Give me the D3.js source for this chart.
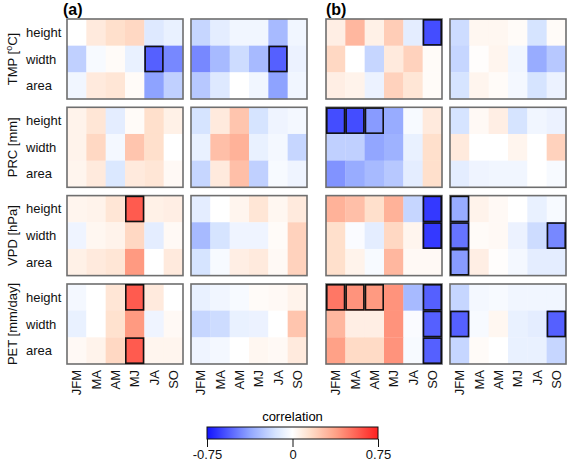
<!DOCTYPE html>
<html><head><meta charset="utf-8">
<script src="https://cdn.jsdelivr.net/npm/d3@7/dist/d3.min.js"></script>
<style>body{margin:0;background:#fff}svg{display:block;font-family:"Liberation Sans",Arial,sans-serif}</style>
</head><body><svg id="c" width="567" height="463"></svg>
<script>
const months = ["JFM","MA","AM","MJ","JA","SO"];
const metrics = ["height","width","area"];
const variables = ["TMP","PRC","VPD","PET"];
const yTitles = ["TMP [\u00baC]","PRC [mm]","VPD [hPa]","PET [mm/day]"];
const groups = ["a1","a2","b1","b2"];
const colorTicks = [-0.75, 0, 0.75];
const colorTickLabels = ["-0.75","0","0.75"];

// rows: height, width, area ; columns: months
const TMP_a1 = [[0.00,0.10,0.15,0.18,-0.12,-0.08],[-0.22,-0.03,0.02,-0.08,-0.55,-0.45],[-0.05,0.10,0.12,0.02,-0.38,-0.22]];
const TMP_a2 = [[-0.20,-0.10,-0.05,-0.05,-0.30,-0.05],[-0.45,-0.30,-0.18,-0.30,-0.55,-0.07],[-0.25,-0.12,0.00,-0.05,-0.38,-0.05]];
const TMP_b1 = [[0.08,0.30,0.07,0.22,-0.10,-0.60],[0.18,0.00,-0.20,0.10,0.20,0.02],[0.08,0.06,-0.07,0.20,0.12,0.02]];
const TMP_b2 = [[-0.18,0.04,0.04,0.02,-0.15,0.02],[-0.20,0.01,0.05,-0.05,-0.35,-0.25],[-0.15,0.05,0.02,-0.04,-0.15,-0.07]];
const PRC_a1 = [[0.06,0.12,-0.10,0.02,0.15,0.07],[0.06,0.18,-0.04,0.25,0.15,0.00],[0.05,0.10,-0.13,0.10,0.12,0.03]];
const PRC_a2 = [[-0.15,0.10,0.25,-0.15,-0.06,-0.04],[-0.08,0.27,0.32,-0.08,-0.04,-0.20],[-0.20,0.10,0.27,-0.22,-0.03,-0.06]];
const PRC_b1 = [[-0.60,-0.60,-0.40,-0.35,-0.03,0.10],[-0.22,-0.22,-0.37,-0.33,-0.08,0.15],[-0.42,-0.35,-0.30,-0.25,-0.10,0.15]];
const PRC_b2 = [[-0.15,0.03,0.08,-0.15,-0.05,-0.07],[0.10,0.00,0.00,0.05,0.00,0.20],[-0.10,-0.06,-0.05,-0.05,0.00,-0.03]];
const VPD_a1 = [[0.05,0.06,0.12,0.58,0.07,0.08],[-0.06,0.04,0.06,0.18,-0.10,0.03],[0.07,0.10,0.12,0.40,0.00,0.10]];
const VPD_a2 = [[-0.10,0.00,0.05,0.12,0.04,0.10],[-0.30,-0.15,-0.06,-0.06,0.02,0.20],[-0.15,-0.03,0.08,0.10,0.03,0.20]];
const VPD_b1 = [[0.32,0.27,0.15,0.32,-0.20,-0.65],[0.15,-0.02,-0.10,0.18,0.05,-0.65],[0.15,0.06,-0.03,0.30,0.03,0.03]];
const VPD_b2 = [[-0.35,0.06,0.03,0.00,-0.08,-0.03],[-0.50,0.02,0.03,-0.07,-0.18,-0.45],[-0.40,0.08,0.01,-0.04,-0.10,-0.10]];
const PET_a1 = [[-0.04,0.00,0.12,0.58,0.10,0.00],[-0.08,0.00,0.14,0.40,-0.06,0.03],[0.03,0.06,0.18,0.58,0.05,0.05]];
const PET_a2 = [[-0.08,-0.05,-0.03,0.02,0.03,0.06],[-0.20,-0.18,-0.08,-0.07,0.00,0.25],[-0.06,-0.04,0.00,0.04,0.03,0.10]];
const PET_b1 = [[0.50,0.42,0.40,0.42,-0.30,-0.55],[0.30,0.08,0.08,0.42,-0.02,-0.55],[0.38,0.17,0.17,0.42,-0.03,-0.55]];
const PET_b2 = [[-0.20,-0.04,-0.03,-0.05,-0.05,-0.05],[-0.55,-0.03,0.04,-0.08,-0.10,-0.55],[-0.20,0.02,0.00,-0.08,-0.08,-0.20]];

// significance flags (1 = outlined)
const TMP_a1_sig = [[0,0,0,0,0,0],[0,0,0,0,1,0],[0,0,0,0,0,0]];
const TMP_a2_sig = [[0,0,0,0,0,0],[0,0,0,0,1,0],[0,0,0,0,0,0]];
const TMP_b1_sig = [[0,0,0,0,0,1],[0,0,0,0,0,0],[0,0,0,0,0,0]];
const PRC_b1_sig = [[1,1,1,0,0,0],[0,0,0,0,0,0],[0,0,0,0,0,0]];
const VPD_a1_sig = [[0,0,0,1,0,0],[0,0,0,0,0,0],[0,0,0,0,0,0]];
const VPD_b1_sig = [[0,0,0,0,0,1],[0,0,0,0,0,1],[0,0,0,0,0,0]];
const VPD_b2_sig = [[1,0,0,0,0,0],[1,0,0,0,0,1],[1,0,0,0,0,0]];
const PET_a1_sig = [[0,0,0,1,0,0],[0,0,0,0,0,0],[0,0,0,1,0,0]];
const PET_b1_sig = [[1,1,1,0,0,1],[0,0,0,0,0,1],[0,0,0,0,0,1]];
const PET_b2_sig = [[0,0,0,0,0,0],[1,0,0,0,0,1],[0,0,0,0,0,0]];

const values = {TMP_a1,TMP_a2,TMP_b1,TMP_b2,PRC_a1,PRC_a2,PRC_b1,PRC_b2,VPD_a1,VPD_a2,VPD_b1,VPD_b2,PET_a1,PET_a2,PET_b1,PET_b2};
const sigs = {TMP_a1_sig,TMP_a2_sig,TMP_b1_sig,PRC_b1_sig,VPD_a1_sig,VPD_b1_sig,VPD_b2_sig,PET_a1_sig,PET_b1_sig,PET_b2_sig};

const svg = d3.select("#c");
const color = d3.scaleLinear()
  .domain([-0.75,-0.375,-0.15,0,0.15,0.375,0.75])
  .range(["#1212ff","#90a5ff","#d6e4ff","#ffffff","#ffe0cc","#ffa388","#ff2020"])
  .clamp(true);

const panelX = [67, 191, 326, 450];
const panelY = [19, 107.3, 195.6, 284];
const pw = 116, ph = 80;

const xs = d3.scaleBand().domain(months).range([0,pw]);
const ys = d3.scaleBand().domain(metrics).range([0,ph]);

variables.forEach((v,ri)=>{
  groups.forEach((g,ci)=>{
    const key = v+"_"+g;
    const data = values[key];
    const sig = sigs[key+"_sig"];
    const p = svg.append("g").attr("transform",`translate(${panelX[ci]},${panelY[ri]})`);
    const cells = [];
    metrics.forEach((m,i)=>months.forEach((mo,j)=>cells.push({m,mo,v:data[i][j],s:sig?sig[i][j]:0})));
    p.selectAll("rect.cell").data(cells).join("rect")
      .attr("x",d=>xs(d.mo)).attr("y",d=>ys(d.m))
      .attr("width",xs.bandwidth()+0.3).attr("height",ys.bandwidth()+0.3)
      .attr("fill",d=>color(d.v));
    p.append("rect").attr("x",0).attr("y",0).attr("width",pw).attr("height",ph)
      .attr("fill","none").attr("stroke","#6e6e6e").attr("stroke-width",1.6);
    p.selectAll("rect.sig").data(cells.filter(d=>d.s)).join("rect")
      .attr("x",d=>xs(d.mo)+0.8).attr("y",d=>ys(d.m)+0.8)
      .attr("width",xs.bandwidth()-1.6).attr("height",ys.bandwidth()-1.6)
      .attr("fill","none").attr("stroke","#111").attr("stroke-width",1.6);
  });
  svg.selectAll(null).data(metrics).join("text")
    .attr("x",26).attr("y",m=>panelY[ri]+ys(m)+ys.bandwidth()/2+4.5)
    .attr("font-size",13).attr("fill","#111").text(m=>m);
  const t = svg.append("text").attr("transform",`translate(17,${panelY[ri]+ph/2}) rotate(-90)`)
    .attr("text-anchor","middle").attr("font-size",13).attr("fill","#111");
  if (v==="TMP") {
    t.append("tspan").text("TMP [");
    t.append("tspan").text("o").attr("font-size",9).attr("dy",-5);
    t.append("tspan").text("C]").attr("dy",5);
  } else t.text(yTitles[ri]);
});

panelX.forEach(px=>{
  svg.selectAll(null).data(months).join("text")
    .attr("transform",m=>`translate(${px+xs(m)+xs.bandwidth()/2+4.5},${panelY[3]+ph+6}) rotate(-90)`)
    .attr("text-anchor","end").attr("font-size",13).attr("fill","#111").text(m=>m);
});

svg.append("text").attr("x",63).attr("y",15).attr("font-size",16).attr("font-weight","bold").text("(a)");
svg.append("text").attr("x",326).attr("y",15).attr("font-size",16).attr("font-weight","bold").text("(b)");

const cb = d3.scaleLinear().domain([-0.75,0.75]).range([207,378]);
const defs = svg.append("defs");
const grad = defs.append("linearGradient").attr("id","cbg");
d3.range(0,1.0001,0.025).forEach(t=>{
  grad.append("stop").attr("offset",t).attr("stop-color",color(-0.75+1.5*t));
});
svg.append("rect").attr("x",cb(-0.75)).attr("y",427).attr("width",cb(0.75)-cb(-0.75)).attr("height",12)
  .attr("fill","url(#cbg)").attr("stroke","#111").attr("stroke-width",1);
svg.append("text").attr("x",cb(0)).attr("y",421).attr("text-anchor","middle").attr("font-size",13).text("correlation");
const ax = svg.append("g").attr("transform","translate(0,439)")
  .call(d3.axisBottom(cb).tickValues(colorTicks).tickSize(8).tickFormat((d,i)=>colorTickLabels[i]));
ax.select(".domain").remove();
ax.selectAll("text").attr("font-size",13).attr("fill","#111").attr("font-family","Liberation Sans, Arial, sans-serif").attr("y",10).attr("dy","0.75em");
ax.selectAll("line").attr("stroke","#111");
</script></body></html>
